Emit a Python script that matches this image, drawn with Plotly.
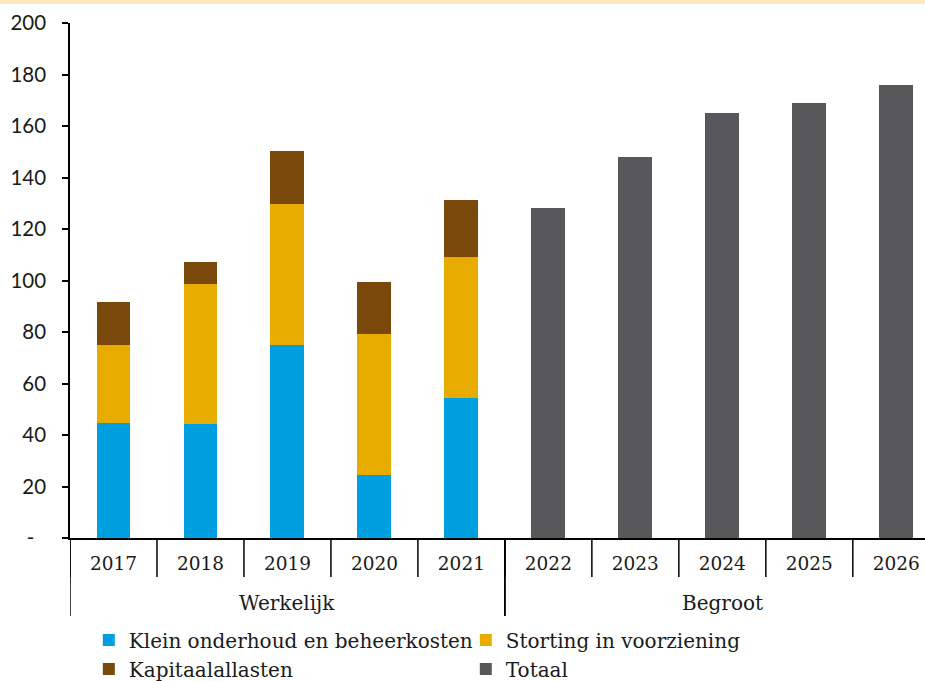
import plotly.graph_objects as go

groups = ["Werkelijk"] * 5 + ["Begroot"] * 5
years = ["2017", "2018", "2019", "2020", "2021", "2022", "2023", "2024", "2025", "2026"]

klein = [44.7, 44.3, 75.0, 24.5, 54.4, None, None, None, None, None]
storting = [30.3, 54.3, 54.7, 54.7, 54.7, None, None, None, None, None]
kapitaal = [16.6, 8.6, 20.6, 20.2, 22.2, None, None, None, None, None]
totaal = [None, None, None, None, None, 128.0, 147.8, 164.9, 168.8, 175.9]

y_ticks = [0, 20, 40, 60, 80, 100, 120, 140, 160, 180, 200]
y_ticktext = ["-\u2007", "20", "40", "60", "80", "100", "120", "140", "160", "180", "200"]

serif = "DejaVu Serif"
txt = "#1a1a1a"
plot_h = 515  # px height of plot area

fig = go.Figure()
fig.add_trace(go.Bar(x=years, y=klein, name="Klein onderhoud en beheerkosten",
                     marker=dict(color="#009FE0", line=dict(width=0))))
fig.add_trace(go.Bar(x=years, y=storting, name="Storting in voorziening",
                     marker=dict(color="#E8AC00", line=dict(width=0))))
fig.add_trace(go.Bar(x=years, y=kapitaal, name="Kapitaalallasten",
                     marker=dict(color="#7A480A", line=dict(width=0))))
fig.add_trace(go.Bar(x=years, y=totaal, name="Totaal",
                     marker=dict(color="#58585A", line=dict(width=0))))

shapes = []
# short boundary ticks between years
for i in range(len(years) + 1):
    shapes.append(dict(type="line", xref="x", yref="paper",
                       x0=i - 0.5, x1=i - 0.5, y0=0, y1=-39 / plot_h,
                       line=dict(color="black", width=1.5)))
# long dividers between groups + group labels
annotations = []
start = 0
for i in range(1, len(groups) + 1):
    if i == len(groups) or groups[i] != groups[start]:
        for b in (start - 0.5, i - 0.5):
            shapes.append(dict(type="line", xref="x", yref="paper",
                               x0=b, x1=b, y0=0, y1=-78 / plot_h,
                               line=dict(color="black", width=1.5)))
        annotations.append(dict(text=groups[start], xref="x", yref="paper",
                                x=(start + i - 1) / 2, y=-65 / plot_h,
                                yanchor="middle", xanchor="center", showarrow=False,
                                font=dict(family=serif, size=20, color=txt)))
        start = i

# top decorative strip
shapes.append(dict(type="rect", xref="paper", yref="paper",
                   x0=-70 / 855, x1=1.0, y0=1 + 19 / plot_h, y1=1 + 24 / plot_h,
                   fillcolor="#FDE8C0", line=dict(width=0), layer="above"))

fig.update_layout(
    barmode="stack",
    bargap=0.61,
    width=925,
    height=681,
    margin=dict(l=70, r=0, t=23, b=143, autoexpand=False),
    paper_bgcolor="white",
    plot_bgcolor="white",
    font=dict(family=serif, size=18, color=txt),
    showlegend=True,
    legend=dict(
        orientation="h",
        x=0.022, xanchor="left",
        y=-0.16, yanchor="top",
        entrywidth=332, entrywidthmode="pixels",
        font=dict(family=serif, size=20, color=txt),
        traceorder="normal",
        itemclick=False,
    ),
    xaxis=dict(
        type="category",
        range=[-0.5, 9.33],
        automargin=False,
        showline=True, linecolor="black", linewidth=1.5,
        ticks="", ticklabelstandoff=8,
        tickfont=dict(family=serif, size=18.5, color=txt),
        showgrid=False, zeroline=False,
    ),
    yaxis=dict(
        range=[0, 200],
        automargin=False,
        tickvals=y_ticks, ticktext=y_ticktext,
        showline=True, linecolor="black", linewidth=1.5,
        ticks="outside", ticklen=6, tickcolor="black", tickwidth=1.5,
        ticklabelstandoff=12,
        tickfont=dict(family="Lato", size=20.5, color=txt),
        showgrid=False, zeroline=False,
    ),
    shapes=shapes,
    annotations=annotations,
)

fig.write_html("out.html",
               config={"displayModeBar": False},
               post_script="document.body.style.margin='0';document.body.style.overflow='hidden';")
